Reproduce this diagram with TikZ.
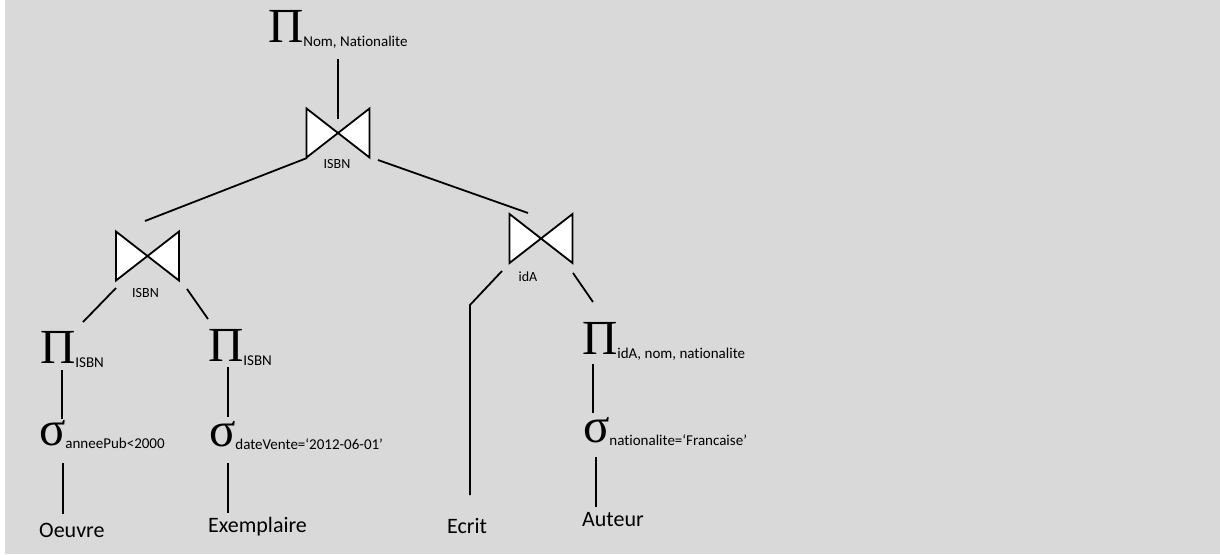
\documentclass[tikz,border=0pt]{standalone}
\usepackage{fontspec}
\setmainfont{Carlito}[Ligatures=NoCommon]
\newfontfamily\gk{Liberation Serif}
\definecolor{bg}{HTML}{D9D9D9}
\tikzset{
  edge/.style={line width=1.8pt, black},
  optext/.style={anchor=base west, inner sep=0pt, outer sep=0pt},
  jlabel/.style={inner sep=0pt, font=\fontsize{14}{16}\selectfont},
  reltext/.style={anchor=base west, inner sep=0pt, font=\fontsize{22}{26}\selectfont},
  bowtie/.pic={
    \draw[line width=1.8pt, fill=white, line join=miter]
      (-31.5,-24.5) -- (-31.5,24.5) -- (0,0) -- cycle
      (31.5,-24.5) -- (31.5,24.5) -- (0,0) -- cycle;
  }
}
\newcommand{\bigop}[2]{{\gk\fontsize{49}{50}\selectfont #1}\raisebox{-4.5pt}{\fontsize{15}{17}\selectfont #2}}
\newcommand{\sigop}[1]{{\gk\fontsize{49}{50}\selectfont σ}\raisebox{-3pt}{\fontsize{15}{17}\selectfont #1}}
\begin{document}
\begin{tikzpicture}[x=1pt,y=-1pt]
\useasboundingbox (0,0) rectangle (1220,554);
\fill[white] (0,0) rectangle (1220,554);
\fill[bg] (5,0) rectangle (1220,554);

% top projection and join
\node[optext] (p0) at (268,42) {\bigop{Π}{Nom, Nationalite}};
\coordinate (j1) at (338,133);
\pic at (j1) {bowtie};
\node[jlabel] (l1) at (337,164) {ISBN};

% left join
\coordinate (j2) at (147.5,256);
\pic at (j2) {bowtie};
\node[jlabel] (l2) at (145.5,293) {ISBN};

% right join
\coordinate (j3) at (541,238.5);
\pic at (j3) {bowtie};
\node[jlabel] (l3) at (528,277) {idA};

% left branch
\node[optext] (p1) at (40,363) {\bigop{Π}{ISBN}};
\node[optext] (s1) at (39,445) {\sigop{anneePub<2000}};
\node[reltext] (r1) at (39,537) {Oeuvre};

\node[optext] (p2) at (208,361) {\bigop{Π}{ISBN}};
\node[optext] (s2) at (209,446) {\sigop{dateVente=‘2012-06-01’}};
\node[reltext] (r2) at (208,532) {Exemplaire};

% right branch
\node[reltext] (r3) at (447,533) {Ecrit};
\node[optext] (p3) at (582,354) {\bigop{Π}{idA, nom, nationalite}};
\node[optext] (s3) at (583,442) {\sigop{nationalite=‘Francaise’}};
\node[reltext] (r4) at (582,526) {Auteur};

% connector end points
\coordinate (a0) at (338,59);   \coordinate (a1) at (338,119);
\coordinate (b0) at (307,158);  \coordinate (b1) at (145,221);
\coordinate (c0) at (378,160);  \coordinate (c1) at (528,213);
\coordinate (d0) at (116,288);  \coordinate (d1) at (83,322);
\coordinate (e0) at (187,289);  \coordinate (e1) at (208,319);
\coordinate (f0) at (62,370);   \coordinate (f1) at (62,419);
\coordinate (g0) at (63,463);   \coordinate (g1) at (63,514);
\coordinate (h0) at (228,367);  \coordinate (h1) at (228,417);
\coordinate (i0) at (228,463);  \coordinate (i1) at (228,513);
\coordinate (k0) at (502,271);  \coordinate (k1) at (470,305); \coordinate (k2) at (470,495);
\coordinate (m0) at (573,273);  \coordinate (m1) at (593,302);
\coordinate (n0) at (593,364);  \coordinate (n1) at (593,413);
\coordinate (o0) at (596,457);  \coordinate (o1) at (596,507);

\draw[edge] (a0) -- (a1);
\draw[edge] (b0) -- (b1);
\draw[edge] (c0) -- (c1);
\draw[edge] (d0) -- (d1);
\draw[edge] (e0) -- (e1);
\draw[edge] (f0) -- (f1);
\draw[edge] (g0) -- (g1);
\draw[edge] (h0) -- (h1);
\draw[edge] (i0) -- (i1);
\draw[edge] (k0) -- (k1) -- (k2);
\draw[edge] (m0) -- (m1);
\draw[edge] (n0) -- (n1);
\draw[edge] (o0) -- (o1);
\end{tikzpicture}
\end{document}
